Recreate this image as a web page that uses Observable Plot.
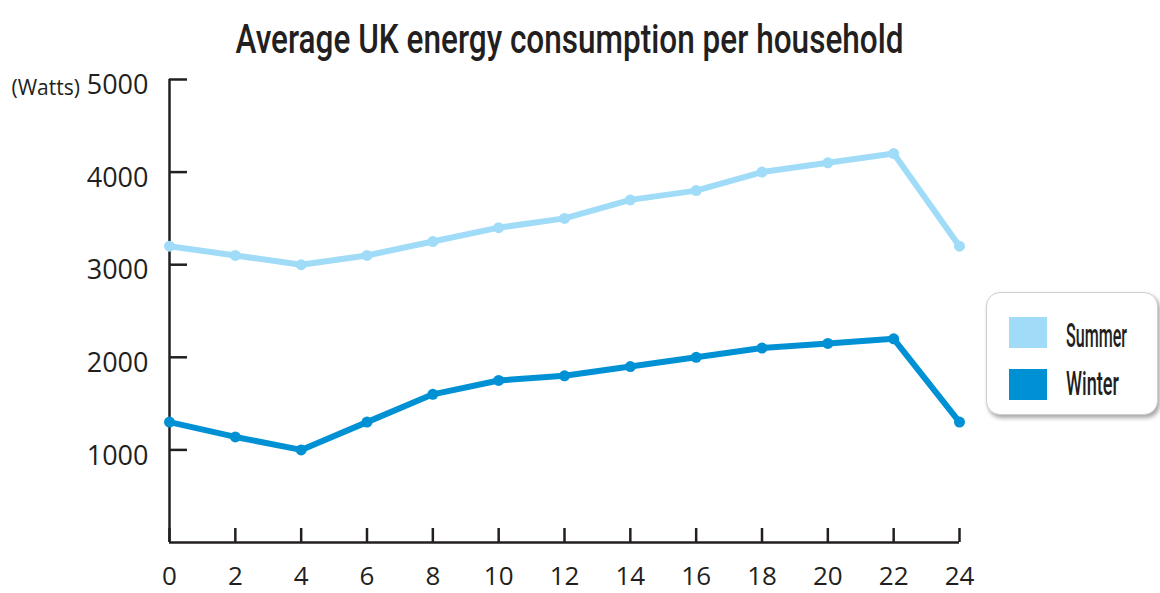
<!DOCTYPE html>
<html><head><meta charset="utf-8">
<script src="https://cdn.jsdelivr.net/npm/d3@7"></script>
<script src="https://cdn.jsdelivr.net/npm/@observablehq/plot@0.6"></script>
<style>
body{margin:0;background:#fff;}
#wrap{position:relative;width:1160px;height:593px;overflow:hidden;}
#legend{position:absolute;left:986px;top:292px;width:170px;height:121px;border:1px solid #cfcfcf;border-radius:14px;background:#fff;box-shadow:2px 3px 4px rgba(0,0,0,0.35);}
#legend svg{position:absolute;left:-1px;top:-1px;}
</style></head><body><div id="wrap"></div>
<script>
const hours = [0,2,4,6,8,10,12,14,16,18,20,22,24];
const summer = [3200,3100,3000,3100,3250,3400,3500,3700,3800,4000,4100,4200,3200];
const winter = [1300,1140,1000,1300,1600,1750,1800,1900,2000,2100,2150,2200,1300];
const seriesNames = ["Summer","Winter"];
const seriesColors = ["#a0dcf8","#0091d5"];
const yTicks = [1000,2000,3000,4000,5000];
const xTicks = [0,2,4,6,8,10,12,14,16,18,20,22,24];
const titleText = "Average UK energy consumption per household";
const unitLabel = "(Watts)";

const rows = [];
hours.forEach((h,i)=>{
  rows.push({hour:h, watts:summer[i], season:seriesNames[0]});
  rows.push({hour:h, watts:winter[i], season:seriesNames[1]});
});

const ink = "#231f20";
const plot = Plot.plot({
  width:1160, height:593,
  marginLeft:169, marginRight:201, marginTop:79, marginBottom:51,
  style:{fontFamily:"'Open Sans', sans-serif", fontSize:"27px", color:ink, background:"#fff"},
  x:{domain:[0,24]},
  y:{domain:[0,5000]},
  color:{domain:seriesNames, range:seriesColors},
  marks:[
    Plot.ruleX([0],{y1:0,y2:5000,stroke:ink,strokeWidth:2.5}),
    Plot.ruleY([0],{x1:0,x2:24,stroke:ink,strokeWidth:2.5}),
    Plot.axisY({ticks:yTicks, tickSize:-18, text:null, tickFormat:null, label:null, stroke:ink, strokeWidth:2.5}),
    Plot.axisY({ticks:yTicks, tickSize:0, tickPadding:21, dy:6, label:null, fontSize:27, fill:ink, tickFormat:d=>String(d)}),
    Plot.axisX({ticks:xTicks, tickSize:-14, text:null, tickFormat:null, label:null, stroke:ink, strokeWidth:2.5}),
    Plot.axisX({ticks:xTicks, tickSize:0, tickPadding:24, label:null, fontSize:26, fill:ink, tickFormat:d=>String(d)}),
    Plot.line(rows,{x:"hour", y:"watts", stroke:"season", strokeWidth:6, strokeLinejoin:"round"}),
    Plot.dot(rows,{x:"hour", y:"watts", fill:"season", r:5.5}),
    Plot.text([unitLabel],{text:d=>d, x:0, y:5000, dx:-158, dy:9, textAnchor:"start", fontSize:21, fill:ink}),
    Plot.text([titleText],{text:d=>d, frameAnchor:"top", dx:5, dy:-27, lineAnchor:"bottom", fontSize:40, fontWeight:500, fontFamily:"Roboto", fill:ink})
  ]
});
document.getElementById("wrap").appendChild(plot);
d3.select(plot).selectAll("text")
  .filter(function(){ return this.textContent === titleText; })
  .attr("textLength",668).attr("lengthAdjust","spacingAndGlyphs");

// legend
const leg = d3.select("#wrap").append("div").attr("id","legend");
const lsvg = leg.append("svg").attr("width",172).attr("height",123);
const legLayout = [{y:25, base:55, len:61},{y:77, base:103, len:53}];
const legFont = 20, capTarget = 24;
seriesNames.forEach((name,i)=>{
  lsvg.append("rect").attr("x",23).attr("y",legLayout[i].y).attr("width",38).attr("height",31).attr("fill",seriesColors[i]);
  const t = lsvg.append("text").attr("x",0).attr("y",0)
    .attr("font-family","Roboto").attr("font-size",legFont).attr("font-weight",500).attr("fill",ink)
    .text(name);
  const w = t.node().getComputedTextLength() || legLayout[i].len;
  const sx = legLayout[i].len / w, sy = capTarget / (legFont * 0.711);
  t.attr("transform", `translate(80,${legLayout[i].base}) scale(${sx},${sy})`);
});
</script>
</body></html>
